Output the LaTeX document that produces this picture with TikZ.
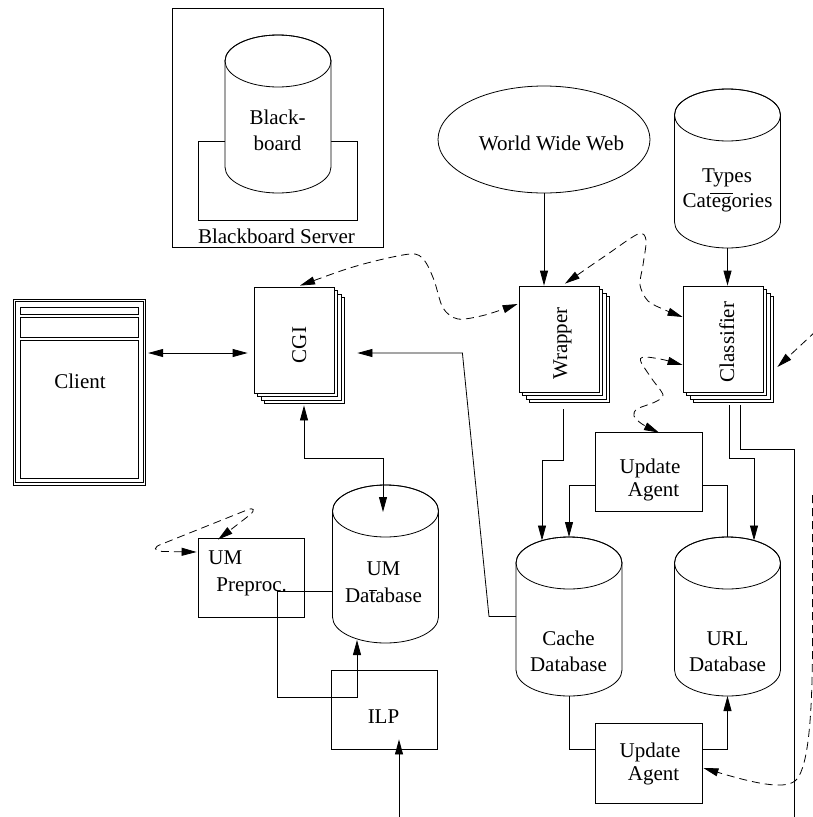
\documentclass[tikz,border=0pt]{standalone}
\usepackage{fontspec}
\setmainfont{Liberation Serif}
\usetikzlibrary{arrows.meta,calc,shapes.geometric}

\tikzset{
  lbl/.style={font=\fontsize{21}{25}\selectfont, inner sep=0pt, anchor=base},
  box/.style={draw, fill=white, inner sep=0pt},
  tip/.style={-{Triangle[length=15pt,width=8pt]}},
  tips/.style={{Triangle[length=15pt,width=8pt]}-{Triangle[length=15pt,width=8pt]}},
  dsh/.style={dash pattern=on 8pt off 5pt},
}

% database cylinder: name, centre x, top-face y, bottom-face y
\newcommand\dbcyl[4]{%
  \node[inner sep=0pt, outer sep=0pt, minimum width=106pt, minimum height={#4-#3+52}] (#1) at (#2,{(#3+#4)/2}) {};
  \filldraw[fill=white] (#2-53,#3) -- (#2-53,#4)
     arc[start angle=180,end angle=0,x radius=53,y radius=26] -- (#2+53,#3)
     arc[start angle=0,end angle=-180,x radius=53,y radius=26] -- cycle;
  \draw (#2,#3) ellipse[x radius=53,y radius=26];
}

% stack of sheets: name, centre x, centre y of the front sheet
\newcommand\sheets[3]{%
  \foreach \k in {3,2,1}{\node[box, minimum width=80pt, minimum height=106pt] (#1-\k) at (#2+3.5*\k,#3+3.5*\k) {};}
  \node[box, minimum width=80pt, minimum height=106pt] (#1) at (#2,#3) {};
}

\begin{document}
\begin{tikzpicture}[x=1pt, y=-1pt, line width=0.8pt]
\useasboundingbox (0,0) rectangle (812,817);

% ---- Blackboard server ----
\node[box, minimum width=211pt, minimum height=239pt] (bbsrv) at (277.5,127.5) {};
\node[box, minimum width=159pt, minimum height=79pt] (bbbase) at (277.5,180.5) {};
\dbcyl{bb}{278}{61}{167}
\node[lbl] (bbt1) at (277.5,124) {Black-};
\node[lbl] (bbt2) at (277.5,150) {board};
\node[lbl] (bbsrvt) at (276.5,243) {Blackboard Server};

% ---- World Wide Web ----
\node[draw, ellipse, inner sep=0pt, minimum width=212pt, minimum height=107pt] (www) at (544,139.5) {};
\node[lbl] (wwwt) at (551.5,150) {World Wide Web};

% ---- Types / Categories ----
\dbcyl{types}{727.5}{115}{222}
\node[lbl] (typest1) at (727,182) {Types};
\node[lbl] (typest2) at (727.5,207) {Categories};
\draw (710,193) -- (733,193);

% ---- Client window ----
\node[draw, inner sep=0pt, minimum width=132.5pt, minimum height=186pt] (client) at (79.5,392) {};
\draw (15.7,301.7) rectangle (143.3,482.3);
\node[draw, inner sep=0pt, minimum width=118pt, minimum height=7pt] (clientbar) at (79,310.5) {};
\node[draw, inner sep=0pt, minimum width=118pt, minimum height=20pt] (clienttools) at (79,327) {};
\node[draw, inner sep=0pt, minimum width=118pt, minimum height=138pt] (clientpane) at (79,409) {};
\node[lbl] (clientt) at (80,388) {Client};

% ---- process stacks ----
\sheets{cgi}{294}{340}
\node[lbl, rotate=90] (cgit) at (306,345) {CGI};
\sheets{wrapper}{559}{339}
\node[lbl, rotate=90] (wrappert) at (567,343.5) {Wrapper};
\sheets{classifier}{723}{339}
\node[lbl, rotate=90] (classifiert) at (734,342) {Classifier};

% ---- user model part ----
\node[box, minimum width=106pt, minimum height=79pt] (umpre) at (251,577.5) {};
\node[lbl, anchor=base west] (umpret1) at (208,564) {UM};
\node[lbl, anchor=base west] (umpret2) at (216,591) {Preproc.};

\dbcyl{umdb}{385.5}{511}{617}
\node[lbl] (umdbt1) at (383.5,575) {UM};
\node[lbl] (umdbt2) at (383.5,602) {Database};
\draw (369,590) -- (377,590);

\node[box, minimum width=106pt, minimum height=79pt] (ilp) at (384,709.5) {};
\node[lbl] (ilpt) at (383.5,723) {ILP};

% ---- update agents and databases ----
\node[box, minimum width=107pt, minimum height=79pt] (ua1) at (648.5,471.5) {};
\node[lbl] (ua1t1) at (650,473) {Update};
\node[lbl] (ua1t2) at (653.5,496) {Agent};

\node[box, minimum width=107pt, minimum height=80pt] (ua2) at (648.5,763) {};
\node[lbl] (ua2t1) at (650,757) {Update};
\node[lbl] (ua2t2) at (653.5,780) {Agent};

\dbcyl{cache}{569}{563}{670}
\node[lbl] (cachet1) at (568.5,645) {Cache};
\node[lbl] (cachet2) at (568.5,671) {Database};

\dbcyl{url}{727.5}{563}{670}
\node[lbl] (urlt1) at (727.5,645) {URL};
\node[lbl] (urlt2) at (727.5,671) {Database};

% ---- solid connectors ----
\draw[tip] (www.south) -- (www.south |- wrapper.north);
\draw[tip] (types.south) -- (types.south |- classifier.north);
\draw[tips] ($(client.east)+(2,-39)$) -- ($(cgi.west)+(-6,13)$);
\draw[tip] (cache.west) -- ++(-27,0) -- ($(cgi.east)+(128,13)$) -- ($(cgi.east)+(23,13)$);
\draw[tips] ($(cgi.south)+(10,12)$) -- ++(0,53) -| ($(umdb.north)+(-2.5,27)$);
\draw[tip] ($(umdb.west)+(0,27)$) -- ++(-55,0) -- ++(0,106) -| ($(umdb.south)+(-28.5,-3)$);
\coordinate (ilpsrc) at (399,817);
\draw[tip] (ilpsrc) -- ($(ilp.south)+(15,-10)$);

\draw[tip] ($(wrapper.south)+(4,17)$) -- ++(0,51) -| ($(cache.north)+(-27,3.5)$);
\draw[tip] ($(ua1.west)+(0,13.5)$) -| (cache.north);
\draw ($(ua1.east)+(0,13.5)$) -| (url.north);
\draw[tip] ($(classifier.south)+(6,13)$) -- ++(0,53) -| ($(url.north)+(26.5,3.5)$);
\coordinate (clsout) at (794,817);
\draw ($(classifier.south)+(17,13)$) -- ++(0,44) -| (clsout);
\draw (cache.south) |- ($(ua2.west)+(0,-14)$);
\draw[tip] ($(ua2.east)+(0,-14)$) -| (url.south);

% ---- dashed message flows ----
\coordinate (cgiin) at ($(cgi.north)+(6,-1)$);
\coordinate (wrapin) at ($(wrapper.west)+(-1,-35)$);
\draw[dsh,tips] plot[smooth, tension=0.5] coordinates {(cgiin) (360,265) (410,254) (424,260) (434,280) (443,308) (458,319) (485,315) (wrapin)};

\coordinate (wraptop) at ($(wrapper.north)+(6,-2)$);
\coordinate (clsin1) at ($(classifier.west)+(0,-22)$);
\draw[dsh,tips] plot[smooth, tension=0.5] coordinates {(wraptop) (605,256) (638,234) (646,240) (643,265) (640,285) (648,301) (665,310) (clsin1)};

\coordinate (clsin2) at ($(classifier.west)+(0,26)$);
\coordinate (ua1in) at ($(ua1.north)+(10.5,1)$);
\draw[dsh,tips] plot[smooth, tension=0.5] coordinates {(clsin2) (660,359) (643,357) (641,362) (652,379) (663,395) (655,402) (637,409) (634,416) (642,424) (ua1in)};

\coordinate (umpreleft) at ($(umpre.west)+(-1,-25.5)$);
\coordinate (umpretop) at ($(umpre.north)+(-33,2)$);
\draw[dsh,tips] (umpreleft) -- (163,551.5) .. controls (153,551) and (153,547) .. (162,544)
   -- (247,510) .. controls (254,507) and (255,510) .. (251,514) -- (umpretop);

\coordinate (offr1) at (816,331);
\draw[dsh,tip] (offr1) -- ($(classifier.east)+(14,28)$);

\coordinate (offr2) at (812.5,495);
\coordinate (ua2in) at ($(ua2.east)+(1,5)$);
\draw[dsh,tip] (offr2) -- (812.5,650) .. controls (812,720) and (808,765) .. (797,779)
   .. controls (788,790) and (760,785) .. (ua2in);
\end{tikzpicture}
\end{document}
